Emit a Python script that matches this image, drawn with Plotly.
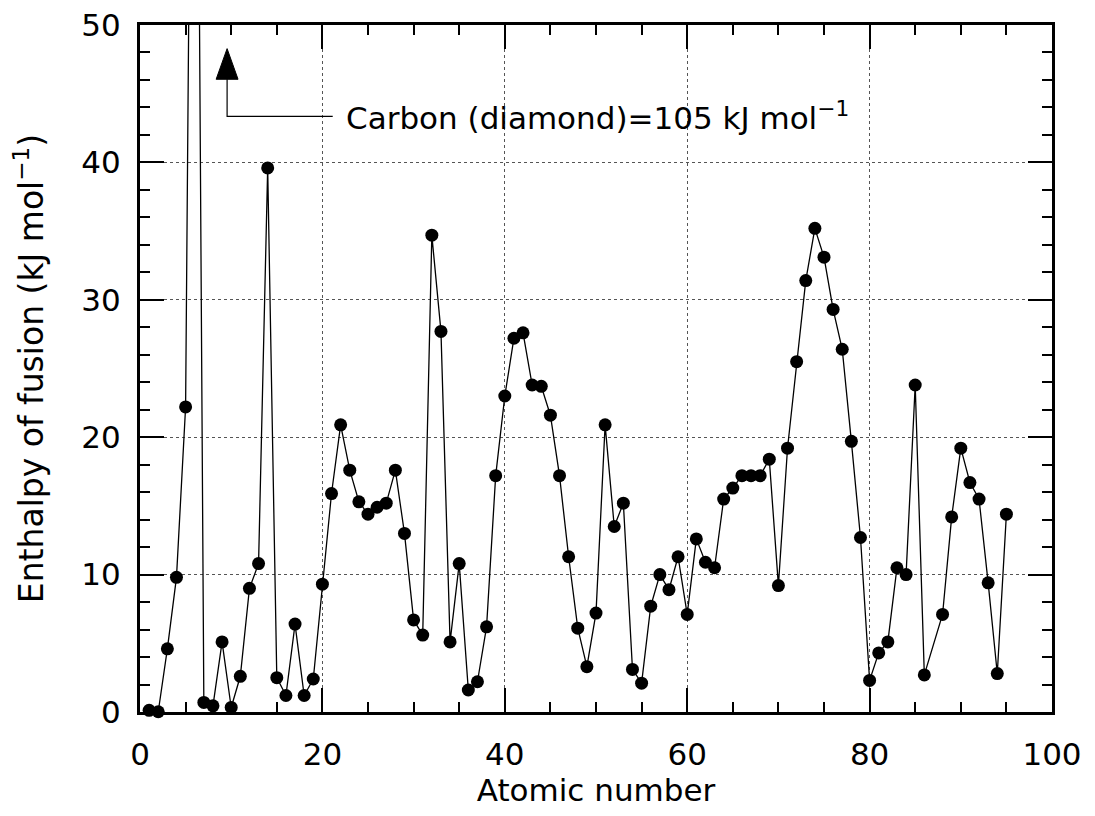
import plotly.graph_objects as go

# ---- data ----
atomic_number = [1, 2, 3, 4, 5, 6, 7, 8, 9, 10,
                 11, 12, 13, 14, 15, 16, 17, 18, 19, 20,
                 21, 22, 23, 24, 25, 26, 27, 28, 29, 30,
                 31, 32, 33, 34, 35, 36, 37, 38, 39, 40,
                 41, 42, 43, 44, 45, 46, 47, 48, 49, 50,
                 51, 52, 53, 54, 55, 56, 57, 58, 59, 60,
                 61, 62, 63, 64, 65, 66, 67, 68, 69, 70,
                 71, 72, 73, 74, 75, 76, 77, 78, 79, 80,
                 81, 82, 83, 84, 85, 86, 88, 89, 90,
                 91, 92, 93, 94, 95]
enthalpy_fusion = [0.12, 0.02, 4.6, 9.8, 22.2, 105.0, 0.7, 0.45, 5.1, 0.33,
                   2.6, 9.0, 10.8, 39.6, 2.5, 1.2, 6.4, 1.2, 2.4, 9.3,
                   15.9, 20.9, 17.6, 15.3, 14.4, 14.9, 15.2, 17.6, 13.0, 6.7,
                   5.6, 34.7, 27.7, 5.1, 10.8, 1.6, 2.2, 6.2, 17.2, 23.0,
                   27.2, 27.6, 23.8, 23.7, 21.6, 17.2, 11.3, 6.1, 3.3, 7.2,
                   20.9, 13.5, 15.2, 3.1, 2.1, 7.7, 10.0, 8.9, 11.3, 7.1,
                   12.6, 10.9, 10.5, 15.5, 16.3, 17.2, 17.2, 17.2, 18.4, 9.2,
                   19.2, 25.5, 31.4, 35.2, 33.1, 29.3, 26.4, 19.7, 12.7, 2.3,
                   4.3, 5.1, 10.5, 10.0, 23.8, 2.7, 7.1, 14.2, 19.2,
                   16.7, 15.5, 9.4, 2.8, 14.4]

x_ticks = [0, 20, 40, 60, 80, 100]
y_ticks = [0, 10, 20, 30, 40, 50]
x_range = [0, 100]
y_range = [0, 50]

# annotation (carbon off-scale marker), in data units
arrow_x = 9.55
arrow_tip_y = 48.28
arrow_base_y = 46.05
arrow_half_w = 1.2
elbow_y = 43.35
elbow_end_x = 21.13
label_x = 22.4
label_text = "Carbon (diamond)=105 kJ mol<sup>\u22121</sup>"

FONT = "DejaVu Sans"
FS = 31

fig = go.Figure()
fig.add_trace(go.Scatter(
    x=atomic_number, y=enthalpy_fusion, mode="lines",
    line=dict(color="black", width=1.3), cliponaxis=True, showlegend=False,
    hoverinfo="skip"))
fig.add_trace(go.Scatter(
    x=atomic_number, y=enthalpy_fusion, mode="markers",
    marker=dict(color="black", size=13, line=dict(width=0)),
    cliponaxis=False, showlegend=False))

# triangle arrow head and elbow connector
fig.add_shape(type="path",
              path=f"M {arrow_x - arrow_half_w},{arrow_base_y} L {arrow_x},{arrow_tip_y} "
                   f"L {arrow_x + arrow_half_w},{arrow_base_y} Z",
              xref="x", yref="y", fillcolor="black", line=dict(color="black", width=1),
              layer="above")
fig.add_shape(type="path",
              path=f"M {arrow_x},{arrow_base_y} L {arrow_x},{elbow_y} L {elbow_end_x},{elbow_y}",
              xref="x", yref="y", line=dict(color="black", width=1.2), layer="above")
fig.add_annotation(x=label_x, y=elbow_y, xref="x", yref="y", text=label_text,
                   showarrow=False, xanchor="left", yanchor="middle",
                   font=dict(family=FONT, size=FS, color="black"))

axis_common = dict(
    showline=True, linewidth=3, linecolor="black", mirror="allticks",
    ticks="inside", ticklen=24, tickwidth=1.5, tickcolor="black",
    showgrid=True, gridcolor="#555555", griddash="dot", gridwidth=1,
    zeroline=False, automargin=False, ticklabeloverflow="allow",
    tickfont=dict(family=FONT, size=FS, color="black"),
)

fig.update_xaxes(
    range=x_range, tickvals=x_ticks, ticklabelstandoff=13,
    minor=dict(dtick=5, ticks="inside", ticklen=10, tickwidth=1.5,
               tickcolor="black", showgrid=False),
    title=dict(text="Atomic number", font=dict(family=FONT, size=FS, color="black"),
               standoff=3),
    **axis_common)
fig.update_yaxes(
    range=y_range, tickvals=y_ticks, ticklabelstandoff=10,
    minor=dict(dtick=2, ticks="inside", ticklen=10, tickwidth=1.5,
               tickcolor="black", showgrid=False),
    title=dict(text="Enthalpy of fusion (kJ mol<sup>\u22121</sup>)",
               font=dict(family=FONT, size=33, color="black"), standoff=32),
    **axis_common)

# page body has an 8px default margin: size the figure to fit the 1095x816 window
fig.update_layout(
    width=1079, height=800, autosize=False,
    margin=dict(l=132, r=35, t=17, b=96),
    paper_bgcolor="white", plot_bgcolor="white",
    font=dict(family=FONT, size=FS, color="black"),
    showlegend=False,
)

fig.write_html("out.html")
